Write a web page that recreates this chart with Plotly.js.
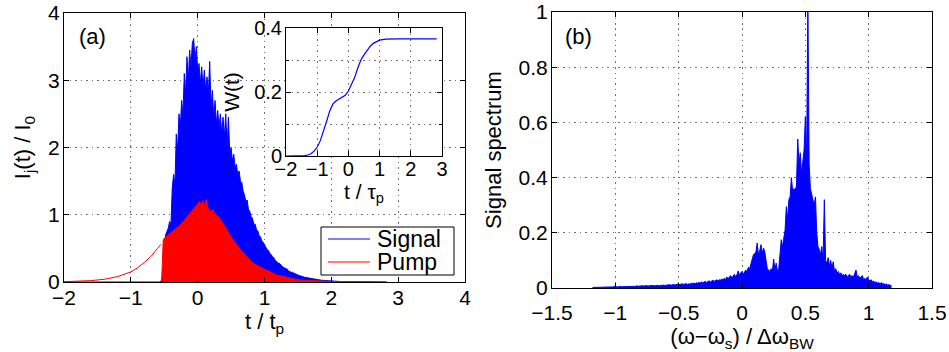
<!DOCTYPE html>
<html><head><meta charset="utf-8">
<script src="https://cdn.plot.ly/plotly-3.0.1.min.js"></script>
<style>html,body{margin:0;padding:0;background:#fff}#chart{width:949px;height:352px}</style>
</head><body><div id="chart"></div>
<script>
// ---------- Panel (a): intensities vs t / t_p ----------
// signal intensity, uniform grid starting at signalStart with step signalStep
const signalStart = -0.56, signalStep = 0.02;
const signalValues = [
 0, 0.03, 0.10, 0.45, 0.70, 0.75, 0.80, 0.90, 0.85, 1.40,
 1.60, 1.45, 2.20, 1.95, 2.50, 2.30, 2.70, 2.50, 3.10, 2.80,
 3.35, 3.00, 3.45, 3.20, 3.55, 3.62, 3.30, 3.50, 3.15, 3.25,
 2.95, 3.20, 2.90, 3.15, 2.85, 3.05, 2.80, 3.28, 2.60, 2.85,
 2.45, 2.70, 2.35, 2.55, 2.30, 2.50, 2.20, 2.45, 2.15, 2.50,
 2.00, 2.45, 1.90, 2.00, 1.80, 1.90, 1.70, 1.75, 1.60, 1.65,
 1.50, 1.48, 1.35, 1.30, 1.20, 1.22, 1.08, 1.05, 0.97, 0.95,
 0.86, 0.86, 0.78, 0.76, 0.69, 0.67, 0.61, 0.59, 0.55, 0.53,
 0.48, 0.47, 0.42, 0.41, 0.37, 0.36, 0.32, 0.31, 0.28, 0.28,
 0.25, 0.24, 0.22, 0.21, 0.19, 0.19, 0.16, 0.16, 0.14, 0.145,
 0.13, 0.125, 0.11, 0.105, 0.095, 0.092, 0.08, 0.078, 0.07, 0.066,
 0.06, 0.056, 0.05, 0.048, 0.045, 0.042, 0.04, 0.036, 0.033, 0.03,
 0.028, 0.026, 0.024, 0.022, 0.02, 0.018, 0.016, 0.015, 0.014
];
const signalLeadT = [-2.0], signalLeadY = [0];
const signalTailT = [2.1, 2.2, 2.4, 2.6, 2.83];
const signalTailY = [0.009, 0.006, 0.003, 0.001, 0];

// pump: smooth leading edge, then depleted/filled part
const pumpRiseT = [-2.0, -1.8, -1.6, -1.4, -1.2, -1.0, -0.9, -0.8, -0.7, -0.6, -0.55];
const pumpRiseY = [0.005, 0.01, 0.02, 0.04, 0.08, 0.15, 0.21, 0.29, 0.38, 0.50, 0.56];
const pumpT = [-0.54, -0.515, -0.5, -0.45, -0.4, -0.35, -0.3, -0.25, -0.2, -0.15, -0.1, -0.05,
  0.0, 0.03, 0.05, 0.08, 0.1, 0.13, 0.15, 0.2, 0.23, 0.25, 0.3, 0.35, 0.4, 0.45, 0.5,
  0.55, 0.6, 0.65, 0.7, 0.75, 0.8, 0.85, 0.9, 0.95, 1.0, 1.05, 1.1, 1.15, 1.2, 1.3,
  1.4, 1.5, 1.6, 1.8, 2.0, 2.4, 2.83];
const pumpY = [0, 0.63, 0.65, 0.69, 0.73, 0.77, 0.81, 0.86, 0.92, 0.98, 1.04, 1.10,
  1.17, 1.20, 1.14, 1.21, 1.13, 1.23, 1.10, 1.05, 1.08, 1.02, 0.98, 0.92, 0.84, 0.75, 0.67,
  0.60, 0.53, 0.47, 0.42, 0.36, 0.31, 0.27, 0.24, 0.21, 0.19, 0.17, 0.14, 0.12, 0.10, 0.075,
  0.05, 0.035, 0.025, 0.015, 0.008, 0.003, 0];

// inset: W(t) vs t / tau_p
const wT = [-2.0, -1.6, -1.4, -1.3, -1.2, -1.1, -1.0, -0.9, -0.8, -0.7, -0.6, -0.5, -0.4, -0.3,
  -0.2, -0.1, 0.0, 0.1, 0.2, 0.3, 0.4, 0.5, 0.6, 0.7, 0.8, 0.9, 1.0, 1.2, 1.4, 1.6, 2.0, 2.5, 2.83];
const wY = [0, 0, 0.001, 0.003, 0.007, 0.015, 0.028, 0.048, 0.075, 0.108, 0.14, 0.162, 0.172, 0.178,
  0.183, 0.19, 0.203, 0.222, 0.245, 0.275, 0.30, 0.316, 0.331, 0.343, 0.352, 0.358, 0.362, 0.365,
  0.366, 0.366, 0.366, 0.366, 0.366];

// ---------- Panel (b): signal spectrum ----------
const specStart = -1.18, specStep = 0.01;
const specValues = [
 0.002,0.002,0.003,0.002,0.003,0.003,0.002,0.003,0.004,0.003,0.003,0.004,0.003,0.004,0.004,0.003,0.004,0.005,0.004,
 0.005,0.004,0.005,0.006,0.005,0.004,0.006,0.005,0.005,0.006,0.007,0.005,0.006,0.006,0.007,0.006,0.008,0.006,0.007,0.008,
 0.007,0.008,0.007,0.009,0.008,0.007,0.009,0.008,0.010,0.008,0.009,0.008,0.010,0.009,0.008,0.010,0.009,0.011,0.009,0.010,
 0.011,0.010,0.012,0.010,0.011,0.013,0.011,0.012,0.014,0.012,0.013,0.012,0.015,0.013,0.014,0.016,0.013,0.015,0.014,0.017,
 0.016,0.018,0.015,0.019,0.017,0.020,0.018,0.022,0.019,0.021,0.024,0.020,0.023,0.026,0.022,0.025,0.028,0.024,0.027,0.030,
 0.026,0.030,0.028,0.033,0.029,0.035,0.031,0.040,0.034,0.038,0.045,0.036,0.042,0.050,0.040,0.048,0.062,0.045,0.055,0.060,
 0.050,0.058,0.065,0.060,0.075,0.070,0.090,0.100,0.120,0.125,0.130,0.163,0.120,0.135,0.157,0.125,0.145,0.130,0.090,0.070,
 0.065,0.060,0.070,0.060,0.105,0.065,0.090,0.060,0.070,0.140,0.175,0.150,0.190,0.210,0.295,0.250,0.320,0.330,0.400,0.350,
 0.360,0.355,0.370,0.540,0.450,0.490,0.415,0.450,0.500,0.620,0.450,1.050,0.450,0.360,0.343,0.320,0.300,0.330,0.200,0.150,
 0.140,0.120,0.150,0.100,0.320,0.100,0.090,0.110,0.080,0.100,0.070,0.095,0.060,0.070,0.055,0.060,0.050,0.055,0.045,0.050,
 0.045,0.050,0.040,0.045,0.050,0.040,0.045,0.040,0.050,0.065,0.040,0.045,0.035,0.040,0.045,0.030,0.035,0.030,0.040,0.030,
 0.025,0.030,0.022,0.025,0.020,0.022,0.018,0.020,0.015,0.020,0.014,0.016,0.012,0.015,0.010,0.012,0.010,0.008
];

const seriesNames = ['Signal', 'Pump'];
const BLUE = '#0000ff', RED = '#ff0000';
const seriesColors = [BLUE, RED];

const signalGridT = signalValues.map((_, i) => +(signalStart + i * signalStep).toFixed(4));
const specGridX = specValues.map((_, i) => +(specStart + i * specStep).toFixed(4));

const traces = [
  { x: signalLeadT.concat(signalGridT, signalTailT), y: signalLeadY.concat(signalValues, signalTailY),
    xaxis: 'x', yaxis: 'y', type: 'scatter', mode: 'lines', fill: 'tozeroy', name: seriesNames[0],
    line: {color: BLUE, width: 1}, fillcolor: BLUE, showlegend: false },
  { x: pumpRiseT, y: pumpRiseY, xaxis: 'x', yaxis: 'y', type: 'scatter', mode: 'lines', name: seriesNames[1],
    line: {color: RED, width: 1}, showlegend: false },
  { x: pumpT, y: pumpY, xaxis: 'x', yaxis: 'y', type: 'scatter', mode: 'lines', fill: 'tozeroy', name: seriesNames[1],
    line: {color: RED, width: 1}, fillcolor: RED, showlegend: false },
  { x: wT, y: wY, xaxis: 'x3', yaxis: 'y3', type: 'scatter', mode: 'lines', name: 'W(t)',
    line: {color: BLUE, width: 1.2}, showlegend: false },
  { x: specGridX, y: specValues, xaxis: 'x2', yaxis: 'y2', type: 'scatter', mode: 'lines', fill: 'tozeroy',
    name: 'Signal spectrum', line: {color: BLUE, width: 1}, fillcolor: BLUE, showlegend: false }
];

const W = 949, H = 352;
const FONT = 'Liberation Sans, Arial, Helvetica, sans-serif';
function ax(extra) {
  return Object.assign({
    showline: true, mirror: 'ticks', linecolor: '#000', linewidth: 1,
    ticks: 'inside', ticklen: 5, tickcolor: '#000', tickwidth: 1,
    showgrid: true, gridcolor: '#707070', griddash: '1.5px,4px', gridwidth: 1,
    zeroline: false, tickfont: {size: 21, color: '#000'}, fixedrange: true
  }, extra);
}

// legend key (box, sample lines, labels) in pixel positions of the frame
const px = v => v / W, py = v => 1 - v / H;
const legendBox = {x0: 321, x1: 454, y0: 227, y1: 275};
const legendRows = [239, 262];
const shapes = [
  {type: 'rect', xref: 'paper', yref: 'paper', x0: px(legendBox.x0), x1: px(legendBox.x1),
   y0: py(legendBox.y1), y1: py(legendBox.y0), line: {color: '#000', width: 1}, fillcolor: '#fff', layer: 'above'}
];
const annotations = [
  {text: '(a)', xref: 'paper', yref: 'paper', x: px(92), y: py(36), xanchor: 'center', yanchor: 'middle',
   showarrow: false, font: {size: 22}},
  {text: '(b)', xref: 'paper', yref: 'paper', x: px(578), y: py(36), xanchor: 'center', yanchor: 'middle',
   showarrow: false, font: {size: 22}}
];
seriesNames.forEach((name, i) => {
  shapes.push({type: 'line', xref: 'paper', yref: 'paper', x0: px(328), x1: px(370),
    y0: py(legendRows[i]), y1: py(legendRows[i]), line: {color: seriesColors[i], width: 1.2}, layer: 'above'});
  annotations.push({text: name, xref: 'paper', yref: 'paper', x: px(375), y: py(legendRows[i]),
    xanchor: 'left', yanchor: 'middle', showarrow: false, font: {size: 23}});
});

const layout = {
  width: W, height: H,
  margin: {l: 0, r: 0, t: 0, b: 0},
  paper_bgcolor: '#fff', plot_bgcolor: '#fff',
  font: {family: FONT, color: '#000', size: 21},
  showlegend: false,
  xaxis: ax({domain: [64 / W, 465 / W], range: [-2, 4], dtick: 1, anchor: 'y', ticklabelstandoff: -3,
    title: {text: 't / t<sub>p</sub>', font: {size: 22}, standoff: 2}}),
  yaxis: ax({domain: [1 - 282 / H, 1 - 13 / H], range: [0, 4], dtick: 1, anchor: 'x', ticklabelstandoff: -1,
    title: {text: 'I<sub>j</sub>(t) / I<sub>0</sub>', font: {size: 22}, standoff: 11}}),
  xaxis2: ax({domain: [552 / W, 932 / W], range: [-1.5, 1.5], dtick: 0.5, anchor: 'y2', ticklabelstandoff: 6,
    title: {text: '(ω−ω<sub>s</sub>) / Δω<sub>BW</sub>', font: {size: 22}, standoff: 0}}),
  yaxis2: ax({domain: [1 - 288 / H, 1 - 12 / H], range: [0, 1], dtick: 0.2, anchor: 'x2', ticklabelstandoff: -1,
    title: {text: 'Signal spectrum', font: {size: 22}, standoff: 10}}),
  xaxis3: ax({domain: [286 / W, 442 / W], range: [-2, 3], dtick: 1, anchor: 'y3', ticklabelstandoff: -5,
    tickfont: {size: 20}, title: {text: 't / τ<sub>p</sub>', font: {size: 21}, standoff: 0}}),
  yaxis3: ax({domain: [1 - 156 / H, 1 - 28 / H], range: [0, 0.4], dtick: 0.2, anchor: 'x3', ticklabelstandoff: -1,
    tickfont: {size: 20}, minor: {dtick: 0.1, showgrid: true, gridcolor: '#707070', griddash: '1.5px,4px', ticks: 'inside', ticklen: 3},
    title: {text: 'W(t)', font: {size: 21}, standoff: 8}}),
  shapes: shapes,
  annotations: annotations
};

Plotly.newPlot('chart', traces, layout, {staticPlot: true, displayModeBar: false});
</script>
</body></html>
